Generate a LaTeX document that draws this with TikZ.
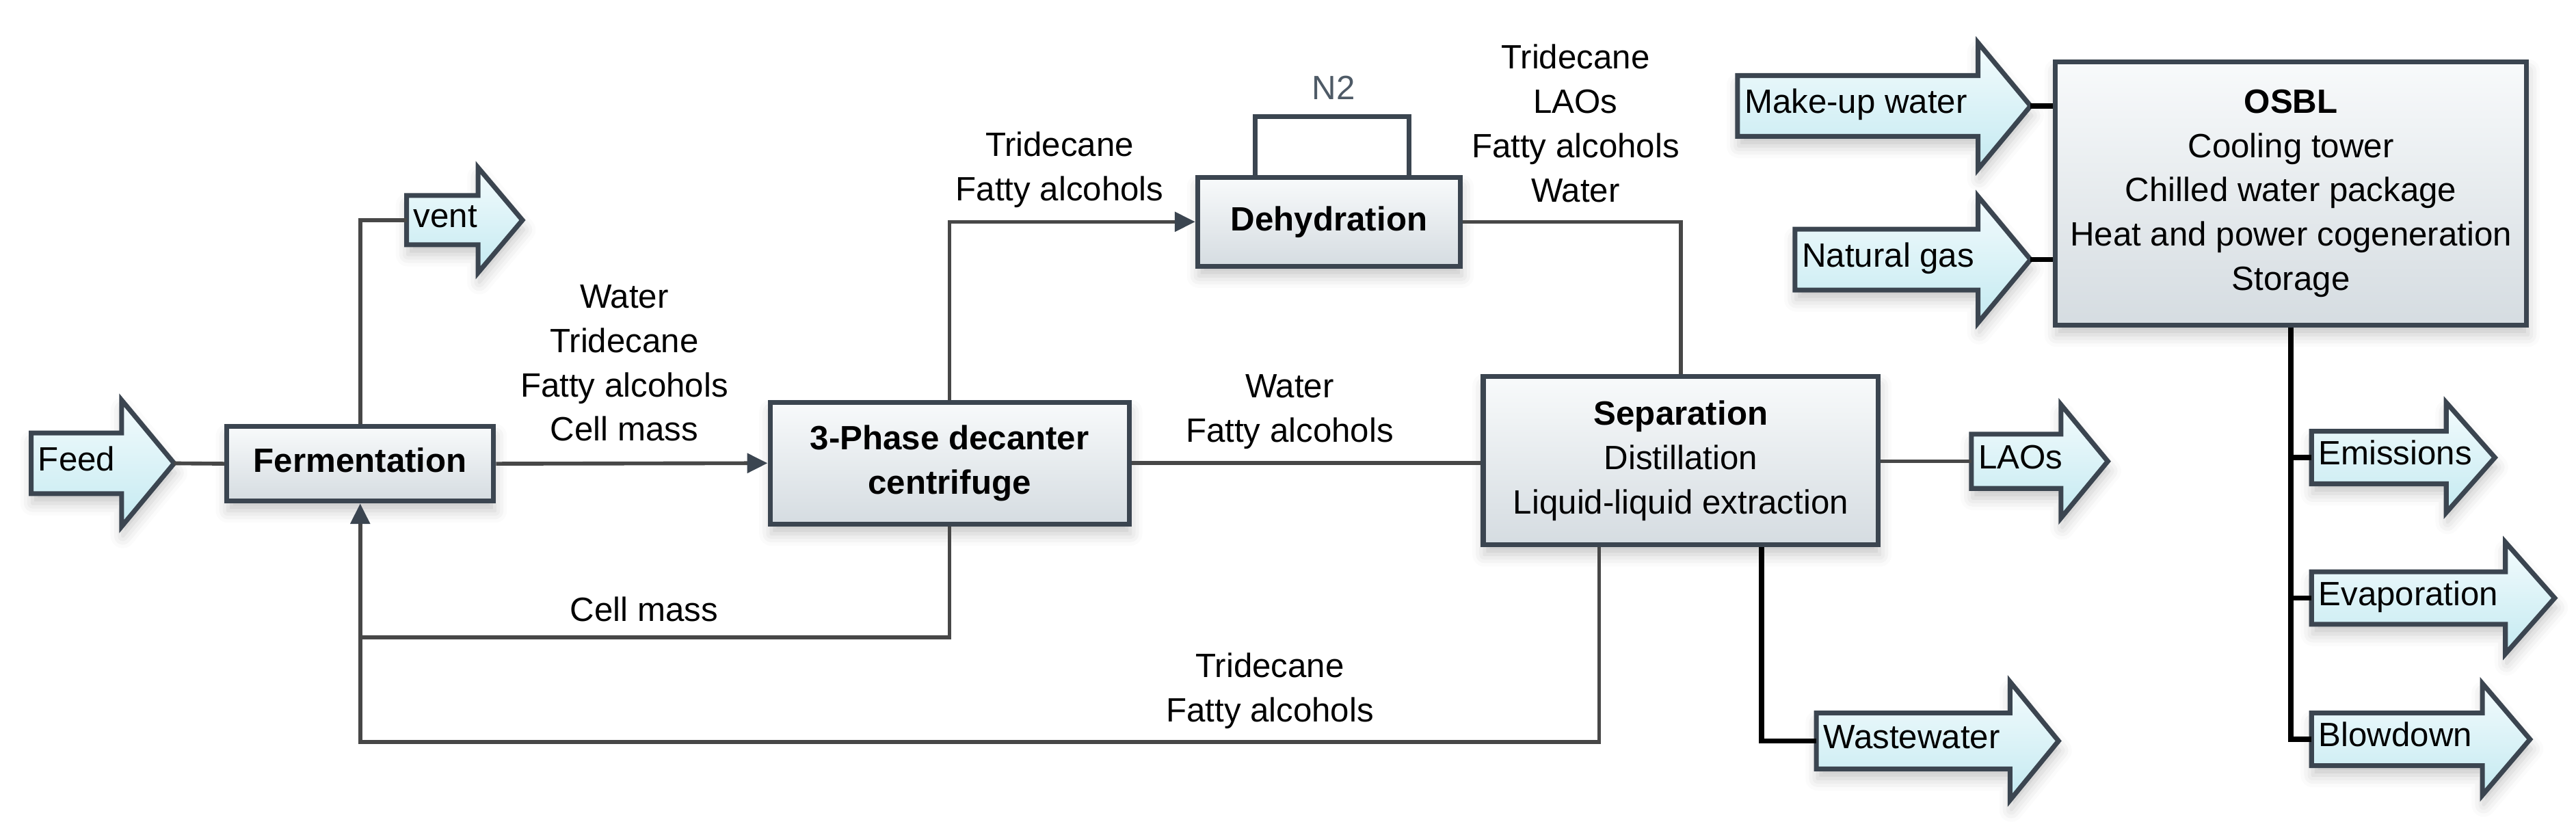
\documentclass[tikz,border=0pt]{standalone}
\usepackage{fontspec}
\setmainfont{Liberation Sans}
\usetikzlibrary{arrows.meta,shadows.blur}
\definecolor{boxline}{HTML}{3B4550}
\definecolor{boxtop}{HTML}{F8FAFB}
\definecolor{boxbot}{HTML}{D5DCE1}
\definecolor{arrtop}{HTML}{F3FBFD}
\definecolor{arrbot}{HTML}{C4EAF1}
\definecolor{conn}{HTML}{474747}
\definecolor{ntwo}{HTML}{4E5A66}
\newcommand\fs{\fontsize{14}{18.44}\selectfont}
\tikzset{
  softshadow/.style={blur shadow={shadow xshift=0.5pt, shadow yshift=-4pt, shadow blur radius=5pt, shadow opacity=22}},
  procbox/.style={draw=boxline, line width=2pt, top color=boxtop, bottom color=boxbot, inner sep=0pt, align=center, softshadow},
  flowshape/.style={draw=boxline, line width=2pt, line join=miter, top color=arrtop, bottom color=arrbot, softshadow},
  conline/.style={draw=conn, line width=1.6pt},
  blkline/.style={draw=black, line width=2.2pt},
  arrowed/.style={-{Triangle[length=8.5pt,width=8pt,color=boxline]}},
  lbl/.style={align=center, inner sep=0pt},
  every node/.append style={font=\fs},
}
% name, left x, centre y, body half height, head base x, head half height, tip x, text
\newcommand\flowarrow[8]{%
  \path[flowshape] (#2,#3-#4) -- (#5,#3-#4) -- (#5,#3-#6) -- (#7,#3) -- (#5,#3+#6) -- (#5,#3+#4) -- (#2,#3+#4) -- cycle;
  \coordinate (#1-tail) at (#2,#3);
  \coordinate (#1-tip) at (#7,#3);
  \node[anchor=base west, inner sep=0pt] (#1) at (#2+4,#3+4.5) {#8};
}
\begin{document}
\begin{tikzpicture}[x=0.683pt, y=-0.683pt]
\useasboundingbox (0,0) rectangle (1568,508.2);

% process boxes
\node[procbox, minimum width=111pt, minimum height=31.1pt, font=\fs\bfseries] (ferm) at (219.25,282.25) {Fermentation\vphantom{y}};
\node[procbox, minimum width=149.3pt, minimum height=50.7pt, font=\fs\bfseries] (dec) at (578,281.9) {3-Phase decanter\\centrifuge};
\node[procbox, minimum width=109.3pt, minimum height=36.9pt, font=\fs\bfseries] (dehy) at (809,135) {Dehydration};
\node[procbox, minimum width=164.3pt, minimum height=70.1pt] (sep) at (1023.1,280.35) {\textbf{Separation}\\Distillation\\Liquid-liquid extraction};
\node[procbox, minimum width=196pt, minimum height=109.6pt] (osbl) at (1394.5,117.75) {\textbf{OSBL}\\Cooling tower\\Chilled water package\\Heat and power cogeneration\\Storage};

% stream arrows
\flowarrow{feed}{19}{282}{18.5}{74}{38.5}{106}{Feed}
\flowarrow{vent}{247.5}{134}{15}{291}{32}{318}{vent}
\flowarrow{laos}{1200}{280.8}{16.5}{1254.5}{34.5}{1283}{LAOs}
\flowarrow{waste}{1105.6}{451}{17}{1223.5}{36}{1253}{Wastewater}
\flowarrow{makeup}{1057.6}{64.5}{18.5}{1204}{38.5}{1236}{Make-up water}
\flowarrow{natgas}{1092.6}{158}{18.5}{1204}{38.5}{1236}{Natural gas}
\flowarrow{emis}{1407}{278.5}{16}{1489}{33.5}{1518.6}{Emissions}
\flowarrow{evap}{1407}{364}{16}{1525}{34}{1555}{Evaporation}
\flowarrow{blow}{1407}{450}{16}{1511}{34}{1540}{Blowdown}

% connectors
\draw[conline] (feed-tip) -- (ferm.west);
\draw[conline] (ferm.north) |- (vent-tail);
\draw[conline, arrowed] (ferm.east) -- (dec.west);
\draw[conline, arrowed] (dec.north) |- (dehy.west);
\coordinate (n2l) at (764,70.8);
\coordinate (n2r) at (857.5,70.8);
\draw[draw=boxline, line width=2pt] (dehy.north -| n2l) -- (n2l) -- (n2r) -- (dehy.north -| n2r);
\node[text=ntwo] (n2) at (811.7,53.5) {N2};
\draw[conline] (dehy.east) -| (sep.north);
\draw[conline] (dec.east) -- (dec.east -| sep.west);
\draw[conline] (sep.east |- laos-tail) -- (laos-tail);
\coordinate (cmj) at (219.25,388);
\coordinate (rj) at (219.25,451.6);
\draw[conline, arrowed] (dec.south) |- (cmj) -- (ferm.south);
\draw[conline] ([xshift=-34pt]sep.south) |- (rj) -- (cmj);
\draw[blkline] ([xshift=33.5pt]sep.south) |- (waste-tail);
\draw[blkline] (makeup-tip) -- (osbl.west |- makeup-tip);
\draw[blkline] (natgas-tip) -- (osbl.west |- natgas-tip);
\draw[blkline] (osbl.south) |- (blow-tail);
\draw[blkline] (osbl.south |- emis-tail) -- (emis-tail);
\draw[blkline] (osbl.south |- evap-tail) -- (evap-tail);

% stream labels
\node[lbl] (l1) at (380,221) {Water\\Tridecane\\Fatty alcohols\\Cell mass};
\node[lbl] (l2) at (645,103.5) {Tridecane\\Fatty alcohols};
\node[lbl] (l3) at (959,75.2) {Tridecane\\LAOs\\Fatty alcohols\\Water};
\node[lbl] (l4) at (785,250.5) {Water\\Fatty alcohols};
\node[lbl] (l5) at (392,371) {Cell mass};
\node[lbl] (l6) at (773,420.5) {Tridecane\\Fatty alcohols};
\end{tikzpicture}
\end{document}
